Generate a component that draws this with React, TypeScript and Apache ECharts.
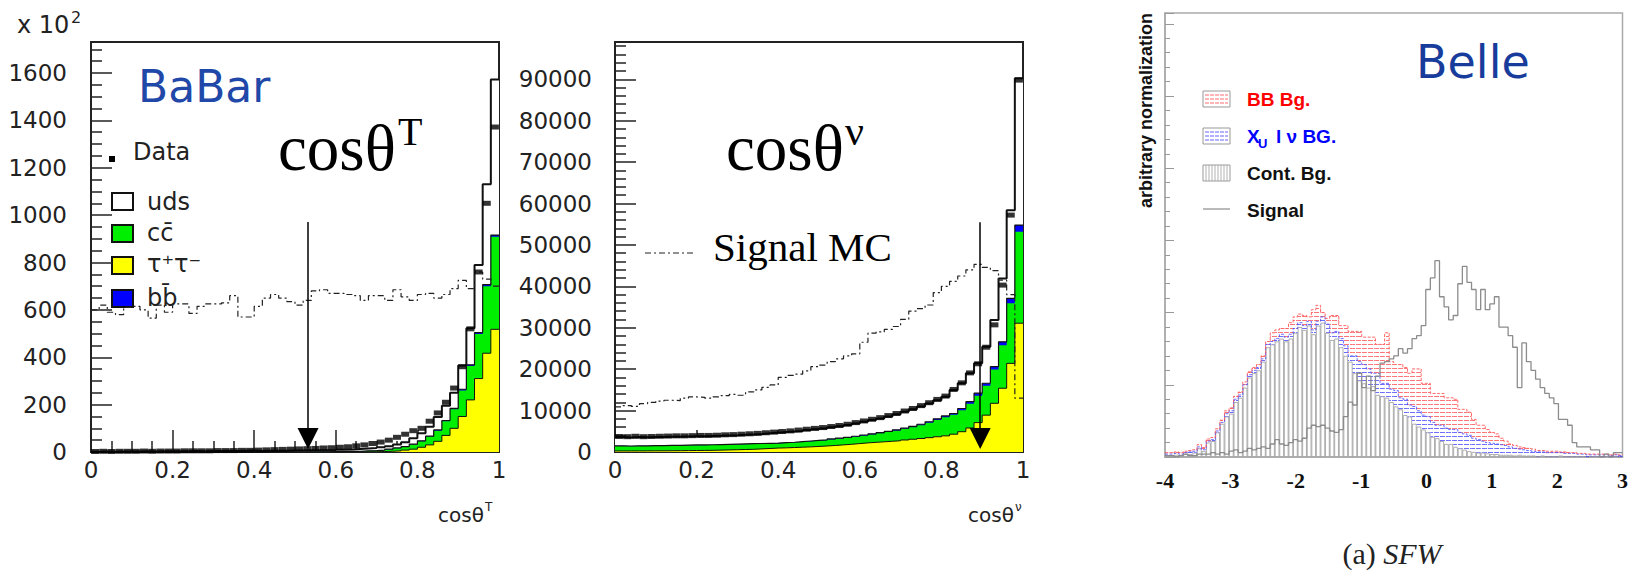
import React, { useEffect, useRef } from 'react';
import * as echarts from 'echarts';

// ---- BaBar cos(theta_T): 50 bins on [0, 1] ----
const thrustTauTau = [
  0, 0, 0, 0, 0, 0, 0, 0, 0, 0, 0, 0, 0, 0, 0, 0, 0, 0, 0, 0, 0, 0, 0, 0, 0,
  0, 0, 0, 0, 0, 0, 0, 0, 1, 1, 2, 3, 5, 8, 12, 20, 30, 45, 70, 100, 150, 220, 310, 417, 518,
];
const thrustCharm = [
  0, 0, 0, 0, 0, 0, 0, 0, 0, 0, 0, 0, 0, 0, 0, 0, 0, 0, 0, 0, 0, 0, 0, 0, 0,
  0, 1, 1, 1, 2, 2, 3, 3, 4, 5, 6, 8, 11, 14, 20, 25, 35, 45, 60, 80, 110, 143, 188, 283, 391,
];
const thrustBottom = [
  0, 0, 0, 0, 0, 0, 0, 0, 0, 0, 0, 0, 0, 0, 0, 0, 0, 0, 0, 0, 0, 0, 0, 0, 0,
  0, 0, 0, 0, 0, 0, 0, 0, 0, 0, 0, 1, 1, 1, 1, 2, 2, 3, 3, 4, 5, 5, 6, 7, 7,
];
const thrustUds = [
  1, 2, 1, 2, 2, 2, 3, 2, 3, 3, 3, 3, 4, 3, 4, 4, 5, 4, 5, 6, 4, 5, 5, 5, 6,
  6, 6, 6, 6, 5, 8, 8, 10, 10, 11, 12, 12, 15, 18, 25, 32, 40, 55, 62, 66, 100, 154, 286, 423, 657,
];
const thrustData = [
  2, 3, 2, 3, 3, 3, 4, 3, 4, 4, 4, 5, 5, 5, 5, 6, 6, 6, 7, 7, 8, 9, 10, 11, 12,
  13, 14, 15, 17, 18, 20, 22, 26, 30, 36, 42, 50, 62, 75, 90, 100, 130, 165, 210, 270, 360, 520, 760, 1050, 1372,
];
const thrustSignal = [
  600, 620, 590, 580, 610, 615, 600, 565, 620, 590, 625, 625, 585, 615, 625, 625, 630, 660, 570, 570,
  615, 650, 665, 650, 635, 620, 640, 680, 685, 670, 670, 665, 660, 640, 660, 660, 640, 685, 655, 640,
  665, 670, 650, 665, 690, 725, 690, 760, 730, 700,
];

// ---- BaBar cos(theta_nu): 50 bins on [0, 1] ----
const nuTauTau = [
  250, 250, 260, 270, 280, 290, 300, 320, 340, 360, 380, 400, 450, 500, 550, 600, 650, 750, 850, 950,
  1000, 1080, 1160, 1240, 1340, 1450, 1580, 1720, 1860, 2030, 2200, 2330, 2460, 2590, 2720, 2900, 3080, 3260, 3460, 3680,
  3900, 4300, 4900, 5800, 7100, 8900, 11760, 15400, 21400, 31100,
];
const nuCharm = [
  1210, 1160, 1200, 1185, 1225, 1215, 1250, 1230, 1260, 1285, 1265, 1295, 1290, 1290, 1285, 1285, 1280, 1230, 1175, 1120,
  1170, 1185, 1250, 1315, 1360, 1390, 1450, 1500, 1550, 1620, 1740, 1900, 2060, 2220, 2430, 2640, 2900, 3210, 3600, 4060,
  4500, 4680, 5200, 5850, 6500, 7100, 8190, 10400, 14500, 22100,
];
const nuBottom = [
  40, 40, 40, 45, 45, 45, 50, 50, 50, 55, 55, 55, 60, 60, 65, 65, 70, 70, 75, 80,
  80, 85, 90, 95, 100, 110, 120, 130, 140, 150, 160, 170, 180, 190, 200, 210, 220, 230, 240, 260,
  300, 320, 400, 500, 600, 600, 650, 800, 1200, 1600,
];
const nuUds = [
  2100, 2050, 2100, 2050, 2050, 2100, 2100, 2100, 2100, 2100, 2100, 2100, 2100, 2150, 2150, 2200, 2250, 2300, 2400, 2500,
  2550, 2600, 2600, 2650, 2700, 2750, 2800, 2850, 2950, 3100, 3200, 3300, 3400, 3600, 3750, 3950, 4100, 4300, 4400, 4500,
  4650, 5700, 6100, 6850, 7200, 8800, 11300, 15300, 21300, 35440,
];
const nuData = [
  3750, 3700, 3800, 3700, 3750, 3800, 3850, 3900, 3900, 3950, 4000, 4000, 4050, 4150, 4200, 4300, 4400, 4500, 4650, 4800,
  4950, 5100, 5300, 5500, 5700, 5900, 6150, 6400, 6700, 7100, 7500, 7900, 8300, 8800, 9300, 9900, 10500, 11200, 11900, 12700,
  13500, 15100, 16700, 19100, 21300, 25300, 30700, 40300, 57200, 89800,
];
const nuSignal = [
  10900, 11200, 11000, 11700, 12000, 12300, 12500, 12400, 13000, 13300, 13200, 13000, 13300, 13600, 13900, 13700, 14500, 15000, 15600, 16200,
  18000, 18500, 18800, 19600, 20600, 21000, 21800, 22500, 23200, 23700, 26500, 28700, 29000, 29600, 30300, 32000, 34000, 34600, 35500, 38500,
  40000, 41200, 42500, 44000, 45300, 44600, 43800, 41500, 38000, 13000,
];

// ---- Belle SFW: 100 bins on [-4, 3] ----
const sfwContinuum = [
  0.1, 0.1, 0.15, 0.1, 0.2, 0.2, 0.3, 0.6, 0.4, 1.0,
  1.1, 1.7, 2.3, 2.8, 3.0, 3.8, 4.1, 4.8, 5.5, 5.8,
  6.0, 6.6, 7.6, 7.8, 8.0, 8.2, 8.0, 8.2, 8.6, 9.0,
  8.8, 9.1, 8.5, 9.1, 9.3, 8.6, 8.1, 8.2, 7.6, 7.0,
  6.6, 5.8, 5.3, 5.1, 4.8, 4.9, 4.3, 4.2, 4.1, 3.8,
  3.5, 3.3, 2.9, 2.8, 2.3, 2.1, 1.9, 1.7, 1.4, 1.3,
  1.1, 0.9, 0.9, 0.7, 0.6, 0.5, 0.4, 0.35, 0.3, 0.3,
  0.25, 0.2, 0.2, 0.15, 0.15, 0.15, 0.1, 0.15, 0.1, 0.1,
  0.1, 0.05, 0.1, 0.05, 0.05, 0.05, 0.1, 0.05, 0.05, 0.05,
  0.05, 0.05, 0, 0.05, 0.05, 0, 0.05, 0, 0.05, 0,
];
const sfwXulnu = [
  0.1, 0.1, 0.1, 0.1, 0.1, 0.15, 0.1, 0.1, 0.1, 0.1,
  0.1, 0.1, 0.1, 0.2, 0.2, 0.2, 0.2, 0.2, 0.2, 0.2,
  0.2, 0.2, 0.2, 0.2, 0.2, 0.3, 0.3, 0.3, 0.3, 0.3,
  0.3, 0.3, 0.3, 0.3, 0.4, 0.6, 0.5, 0.5, 0.6, 0.7,
  0.4, 1.2, 1.3, 1.3, 1.3, 0.9, 1.5, 0.9, 1.0, 0.9,
  1.1, 0.8, 1.1, 0.8, 1.2, 1.1, 1.0, 1.1, 1.0, 0.9,
  1.1, 1.1, 1.0, 1.2, 1.1, 1.1, 1.1, 0.95, 0.9, 0.8,
  0.75, 0.75, 0.7, 0.7, 0.65, 0.55, 0.5, 0.4, 0.4, 0.35,
  0.3, 0.3, 0.25, 0.25, 0.25, 0.25, 0.2, 0.2, 0.2, 0.2,
  0.15, 0.15, 0.15, 0.1, 0.1, 0.15, 0.1, 0.1, 0.1, 0.1,
];
const sfwBBbar = [
  0.1, 0.1, 0.1, 0.1, 0.1, 0.1, 0.1, 0.15, 0.15, 0.15,
  0.15, 0.15, 0.15, 0.2, 0.2, 0.2, 0.2, 0.2, 0.2, 0.2,
  0.2, 0.2, 0.2, 0.6, 0.6, 0.4, 0.6, 0.8, 0.8, 0.6,
  0.7, 0.3, 1.4, 1.1, 0.3, 0.4, 1.2, 1.1, 0.9, 1.4,
  1.7, 1.7, 2.1, 1.9, 2.2, 2.5, 2.0, 2.7, 3.5, 1.9,
  1.8, 2.3, 2.2, 2.2, 2.6, 2.9, 2.2, 2.3, 2.0, 2.2,
  2.2, 2.1, 2.2, 2.1, 1.6, 1.7, 1.6, 1.3, 1.0, 1.1,
  0.9, 0.75, 0.7, 0.45, 0.3, 0.2, 0.2, 0.15, 0.15, 0.15,
  0.15, 0.1, 0.1, 0.1, 0.1, 0.1, 0.05, 0.1, 0.05, 0.05,
  0.05, 0.05, 0.05, 0.05, 0.05, 0.05, 0.05, 0.05, 0.05, 0.05,
];
const sfwSignal = [
  0.1, 0.1, 0, 0.1, 0.2, 0.1, 0.1, 0.2, 0.2, 0.2,
  0.3, 0.2, 0.3, 0.2, 0.4, 0.5, 0.3, 0.4, 0.6, 0.5,
  0.6, 0.7, 0.6, 0.9, 1.2, 0.9, 0.8, 1.0, 1.2, 1.1,
  1.3, 2.0, 2.2, 2.1, 2.2, 2.0, 1.8, 1.7, 1.9, 2.8,
  3.8, 3.6, 5.8, 4.8, 5.6, 4.6, 5.6, 6.5, 6.6, 6.8,
  7.0, 7.5, 7.2, 7.5, 8.2, 8.4, 9.1, 11.6, 12.4, 13.6,
  11.1, 10.4, 9.5, 9.8, 12.0, 13.2, 12.1, 11.6, 10.2, 11.6,
  10.2, 10.6, 11.1, 9.0, 9.0, 8.4, 7.6, 4.8, 7.9, 6.6,
  6.0, 5.4, 4.8, 4.4, 4.1, 3.7, 2.6, 2.6, 2.2, 1.0,
  0.7, 0.7, 0.7, 0.5, 0.5, 0, 0.2, 0, 0.3, 0.3,
];

const SANS = 'DejaVu Sans';
const SERIF = 'Liberation Serif';
const ARIAL = 'Liberation Sans';

const edgesFrom = (lo: number, w: number, n: number) =>
  Array.from({ length: n + 1 }, (_, i) => Math.round((lo + i * w) * 1e4) / 1e4);

const babarEdges = edgesFrom(0, 0.02, thrustUds.length);
const sfwEdges = edgesFrom(-4, 0.07, sfwContinuum.length);

const sum = (...arrs: number[][]) => arrs[0].map((_, i) => arrs.reduce((s, a) => s + a[i], 0));

// histogram outline: left edges + closing point at the last edge
const stepPoints = (vals: number[], edges: number[]) => [
  ...vals.map((v, i) => [edges[i], v]),
  [edges[vals.length], vals[vals.length - 1]],
];

function babarSeries(idx: number, parts: number[][], data: number[], signal: number[], arrow: number[]) {
  const [tt, cc, bb, uds] = parts;
  const area = (name: string, vals: number[], fill: string, width: number) => ({
    name,
    type: 'line',
    xAxisIndex: idx,
    yAxisIndex: idx,
    step: 'end',
    data: stepPoints(vals, babarEdges),
    symbol: 'none',
    silent: true,
    lineStyle: { color: '#111', width: width || 1, opacity: width ? 1 : 0 },
    areaStyle: { color: fill, opacity: 1 },
  });
  return [
    area('uds', sum(tt, cc, bb, uds), '#ffffff', 2),
    area('bb', sum(tt, cc, bb), '#0000ff', 1.2),
    area('cc', sum(tt, cc), '#00ee00', 0),
    area('tt', tt, '#ffff00', 1),
    {
      name: 'Signal MC',
      type: 'line',
      xAxisIndex: idx,
      yAxisIndex: idx,
      step: 'end',
      data: stepPoints(signal, babarEdges),
      symbol: 'none',
      silent: true,
      lineStyle: { color: '#222', width: 1.2, type: [6, 3, 2, 3] },
    },
    {
      name: 'Data',
      type: 'scatter',
      xAxisIndex: idx,
      yAxisIndex: idx,
      z: 4,
      silent: true,
      symbol: 'rect',
      symbolSize: [8, 5],
      itemStyle: { color: '#000' },
      data: data.map((v, i) => [babarEdges[i] + 0.01, v]),
      markLine: {
        silent: true,
        symbol: ['none', 'triangle'],
        symbolSize: 21,
        label: { show: false },
        lineStyle: { color: '#000', width: 1.5, type: 'solid' },
        data: [[{ coord: [arrow[0], arrow[1]] }, { coord: [arrow[0], arrow[2]] }]],
      },
    },
  ];
}

const plain = (v: number) => String(v);

const babarX = (gridIndex: number) => ({
  type: 'value',
  gridIndex,
  position: 'bottom',
  min: 0,
  max: 1,
  interval: 0.2,
  axisLine: { show: true, onZero: false, lineStyle: { color: '#222', width: 2 } },
  axisTick: { inside: true, length: 22, lineStyle: { color: '#222', width: 1.5 } },
  minorTick: { show: true, splitNumber: 4, length: 11, lineStyle: { color: '#222', width: 1.5 } },
  splitLine: { show: false },
  axisLabel: { margin: 6, fontSize: 23, fontFamily: SANS, color: '#222', formatter: plain },
});

const babarY = (gridIndex: number, max: number, interval: number, minor: number, margin: number) => ({
  type: 'value',
  gridIndex,
  min: 0,
  max,
  interval,
  axisLine: { show: true, onZero: false, lineStyle: { color: '#222', width: 2 } },
  axisTick: { inside: true, length: 21, lineStyle: { color: '#222', width: 1.5 } },
  minorTick: { show: true, splitNumber: minor, length: 11, lineStyle: { color: '#222', width: 1.5 } },
  splitLine: { show: false },
  axisLabel: { margin, fontSize: 23, fontFamily: SANS, color: '#222', showMaxLabel: false, formatter: plain },
});

const hatch = (color: string) => ({
  symbol: 'rect',
  symbolSize: 1,
  color,
  dashArrayX: [5, 1],
  dashArrayY: [1, 2.5],
  rotation: 0,
});

const text = (x: number, y: number, t: string, fontSize: number, o: any = {}) => ({
  type: 'text',
  x,
  y,
  rotation: o.rotation || 0,
  silent: true,
  style: {
    text: t,
    fontSize,
    fontFamily: o.family || SANS,
    fontWeight: o.weight || 'normal',
    fontStyle: o.style || 'normal',
    fill: o.fill || '#222',
    textAlign: o.align || 'left',
    textVerticalAlign: 'middle',
    rich: o.rich,
  },
});

const box = (x: number, y: number, w: number, h: number, fill: string, stroke: string, lineWidth: number) => ({
  type: 'rect',
  silent: true,
  shape: { x, y, width: w, height: h },
  style: { fill, stroke, lineWidth },
});

const hline = (x1: number, x2: number, y: number, stroke: string, lineDash?: number[]) => ({
  type: 'line',
  silent: true,
  shape: { x1, y1: y, x2, y2: y },
  style: { stroke, lineWidth: 1.2, lineDash },
});

export default function App() {
  const ref = useRef<HTMLDivElement>(null);

  useEffect(() => {
    if (!ref.current) return;
    const chart = echarts.init(ref.current, null, { renderer: 'svg' });

    const xuTop = sum(sfwContinuum, sfwXulnu);
    const bbTop = sum(sfwContinuum, sfwXulnu, sfwBBbar);

    const contSwatch = Array.from({ length: 8 }, (_, i) => ({
      type: 'line',
      silent: true,
      shape: { x1: 1206 + i * 3, y1: 165, x2: 1206 + i * 3, y2: 181 },
      style: { stroke: '#a0a0a0', lineWidth: 0.8 },
    }));

    const option = {
      animation: false,
      backgroundColor: '#fff',
      textStyle: { fontFamily: SANS },
      grid: [
        { left: 91, top: 42, width: 408, height: 410, show: true, borderColor: '#222', borderWidth: 2 },
        { left: 615, top: 42, width: 408, height: 410, show: true, borderColor: '#222', borderWidth: 2 },
        { left: 1165, top: 13, width: 458, height: 444, show: true, borderColor: '#aaa', borderWidth: 1.5 },
      ],
      xAxis: [
        babarX(0),
        babarX(1),
        { type: 'category', gridIndex: 2, position: 'bottom', show: false, data: sfwContinuum.map((_, i) => String(i)) },
        {
          type: 'value',
          gridIndex: 2,
          position: 'bottom',
          min: -4,
          max: 3,
          interval: 1,
          axisLine: { show: true, onZero: false, lineStyle: { color: '#aaa', width: 1.5 } },
          axisTick: { show: false },
          splitLine: { show: false },
          axisLabel: { margin: 12, fontSize: 22, fontFamily: SERIF, fontWeight: 'bold', color: '#111' },
        },
      ],
      yAxis: [
        babarY(0, 1731, 200, 4, 24),
        babarY(1, 99000, 10000, 5, 23),
        {
          type: 'value',
          gridIndex: 2,
          min: 0,
          max: 30.75,
          interval: 5,
          axisLine: { show: true, onZero: false, lineStyle: { color: '#aaa', width: 1.5 } },
          axisTick: { inside: true, length: 9, lineStyle: { color: '#999' } },
          minorTick: { show: true, splitNumber: 5, length: 5, lineStyle: { color: '#999' } },
          splitLine: { show: false },
          axisLabel: { show: false },
        },
      ],
      series: [
        ...babarSeries(0, [thrustTauTau, thrustCharm, thrustBottom, thrustUds], thrustData, thrustSignal, [0.532, 971, 57]),
        ...babarSeries(1, [nuTauTau, nuCharm, nuBottom, nuUds], nuData, nuSignal, [0.895, 55500, 3260]),
        {
          name: 'Cont. Bg.',
          type: 'bar',
          xAxisIndex: 2,
          yAxisIndex: 2,
          stack: 'sfw',
          barCategoryGap: '0%',
          silent: true,
          itemStyle: { color: '#fff', borderColor: '#9a9a9a', borderWidth: 0.8 },
          data: sfwContinuum,
        },
        {
          name: 'Xu l nu BG.',
          type: 'bar',
          xAxisIndex: 2,
          yAxisIndex: 2,
          stack: 'sfw',
          barCategoryGap: '0%',
          silent: true,
          itemStyle: { color: 'rgba(255,255,255,0)', decal: hatch('rgba(60,60,255,0.75)') },
          data: sfwXulnu,
        },
        {
          name: 'BB Bg.',
          type: 'bar',
          xAxisIndex: 2,
          yAxisIndex: 2,
          stack: 'sfw',
          barCategoryGap: '0%',
          silent: true,
          itemStyle: { color: 'rgba(255,255,255,0)', decal: hatch('rgba(255,70,70,0.75)') },
          data: sfwBBbar,
        },
        {
          type: 'line',
          xAxisIndex: 3,
          yAxisIndex: 2,
          step: 'end',
          symbol: 'none',
          silent: true,
          lineStyle: { color: 'rgba(70,70,255,0.8)', width: 1, type: [3, 1.5] },
          data: stepPoints(xuTop, sfwEdges),
        },
        {
          type: 'line',
          xAxisIndex: 3,
          yAxisIndex: 2,
          step: 'end',
          symbol: 'none',
          silent: true,
          lineStyle: { color: 'rgba(255,80,80,0.85)', width: 1, type: [3, 1.5] },
          data: stepPoints(bbTop, sfwEdges),
        },
        {
          name: 'Signal',
          type: 'line',
          xAxisIndex: 3,
          yAxisIndex: 2,
          step: 'end',
          symbol: 'none',
          silent: true,
          lineStyle: { color: '#8c8c8c', width: 1.3 },
          data: stepPoints(sfwSignal, sfwEdges),
        },
      ],
      graphic: [
        // BaBar cos(theta_T) panel
        text(17, 25, 'x 10', 24),
        text(71, 17, '2', 16),
        text(138, 86, 'BaBar', 44, { fill: '#1f48a8' }),
        box(109, 156, 6, 6, '#000', '#000', 0),
        text(133, 152, 'Data', 24),
        box(112, 193, 21, 17, '#fff', '#111', 2),
        box(112, 225, 21, 17, '#00ee00', '#111', 2),
        box(112, 257, 21, 17, '#ffff00', '#111', 2),
        box(112, 290, 21, 17, '#0000ff', '#111', 2),
        text(147, 202, 'uds', 24),
        text(147, 233, 'cc\u0304', 24),
        text(147, 264, 'τ⁺τ⁻', 24),
        text(147, 298, 'bb\u0304', 24),
        text(278, 148, 'cosθ', 65, { family: SERIF, fill: '#000' }),
        text(398, 131, 'T', 40, { family: SERIF, fill: '#000' }),
        text(484, 515, 'cosθ', 20, { align: 'right' }),
        text(485, 507, 'T', 12),
        // BaBar cos(theta_nu) panel
        text(726, 148, 'cosθ', 65, { family: SERIF, fill: '#000' }),
        text(845, 131, 'ν', 42, { family: SERIF, fill: '#000' }),
        hline(645, 693, 253, '#222', [6, 3, 2, 3]),
        text(713, 247, 'Signal MC', 41, { family: SERIF, fill: '#000' }),
        text(1014, 515, 'cosθ', 20, { align: 'right' }),
        text(1015, 507, 'ν', 12),
        // Belle SFW panel
        text(1146, 13, 'arbitrary normalization', 18, { family: ARIAL, weight: 'bold', fill: '#111', align: 'right', rotation: Math.PI / 2 }),
        text(1416, 62, 'Belle', 46, { fill: '#183c9c' }),
        box(1203, 91, 27, 16, '#fff', '#999', 1),
        hline(1205, 1228, 95, 'rgba(255,70,70,0.8)', [4, 1]),
        hline(1205, 1228, 99, 'rgba(255,70,70,0.8)', [4, 1]),
        hline(1205, 1228, 103, 'rgba(255,70,70,0.8)', [4, 1]),
        box(1203, 128, 27, 16, '#fff', '#999', 1),
        hline(1205, 1228, 132, 'rgba(60,60,255,0.8)', [4, 1]),
        hline(1205, 1228, 136, 'rgba(60,60,255,0.8)', [4, 1]),
        hline(1205, 1228, 140, 'rgba(60,60,255,0.8)', [4, 1]),
        box(1203, 165, 27, 16, '#fff', '#999', 1),
        ...contSwatch,
        hline(1203, 1230, 209, '#8c8c8c'),
        text(1247, 99, 'BB Bg.', 19, { family: ARIAL, weight: 'bold', fill: '#ff0000' }),
        text(1247, 136, 'X', 19, { family: ARIAL, weight: 'bold', fill: '#0000ff' }),
        text(1258, 143, 'U', 13, { family: ARIAL, weight: 'bold', fill: '#0000ff' }),
        text(1276, 136, 'l ν BG.', 19, { family: ARIAL, weight: 'bold', fill: '#0000ff' }),
        text(1247, 173, 'Cont. Bg.', 19, { family: ARIAL, weight: 'bold', fill: '#111' }),
        text(1247, 210, 'Signal', 19, { family: ARIAL, weight: 'bold', fill: '#111' }),
        text(1392, 553, '{u|(a) }{i|SFW}', 30, {
          family: SERIF,
          align: 'center',
          rich: {
            u: { fontFamily: SERIF, fontSize: 30, fill: '#222' },
            i: { fontFamily: SERIF, fontSize: 30, fontStyle: 'italic', fill: '#222' },
          },
        }),
      ],
    };

    chart.setOption(option as any);
    return () => chart.dispose();
  }, []);

  return <div ref={ref} style={{ position: 'absolute', left: 0, top: 0, width: 1631, height: 580 }} />;
}
